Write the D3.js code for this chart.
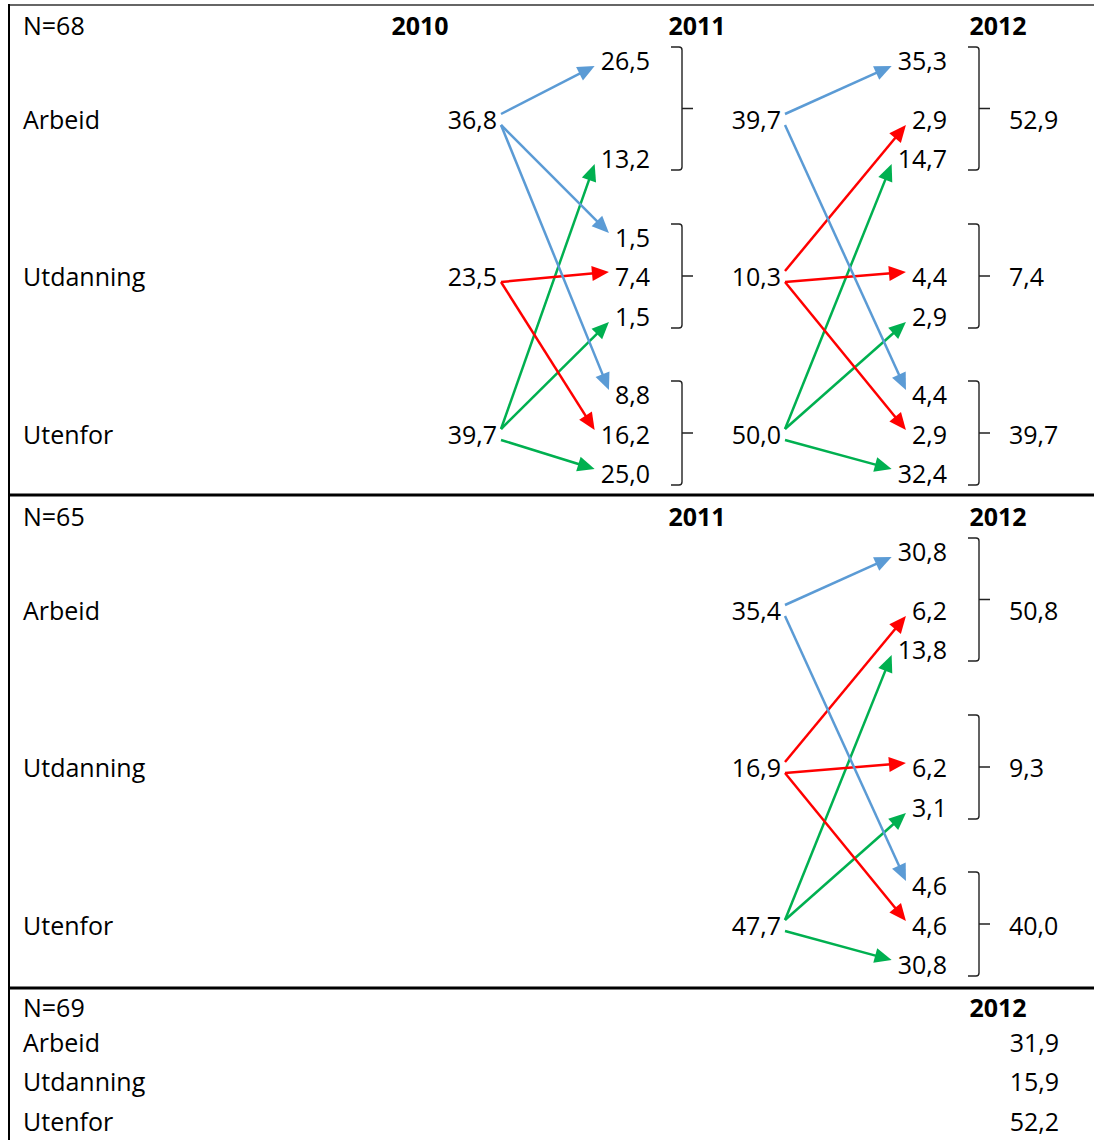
<!DOCTYPE html>
<html>
<head>
<meta charset="utf-8">
<script src="https://cdn.jsdelivr.net/npm/d3@7"></script>
<style>
  body { margin: 0; background: #fff; }
  text { font-family: "Open Sans", sans-serif; font-size: 25px; fill: #000; }
  text.year { font-weight: 700; }
</style>
</head>
<body>
<div id="chart"></div>
<script>
let w = 1094
let h = 1140

// categories, colour of arrows = category they come from
let CATEGORIES = ["Arbeid", "Utdanning", "Utenfor"]
let COLORS = ["#5B9BD5", "#FF0000", "#00B050"]

// panel 1
let N1 = "N=68"
let YEARS1 = ["2010", "2011", "2012"]
let P1_2010 = [36.8, 23.5, 39.7]
let P1_2011 = [39.7, 10.3, 50.0]
let P1_2012 = [52.9, 7.4, 39.7]
// [from, to, value]
let P1_FLOWS_2011 = [
  ["Arbeid", "Arbeid", 26.5], ["Utenfor", "Arbeid", 13.2],
  ["Arbeid", "Utdanning", 1.5], ["Utdanning", "Utdanning", 7.4], ["Utenfor", "Utdanning", 1.5],
  ["Arbeid", "Utenfor", 8.8], ["Utdanning", "Utenfor", 16.2], ["Utenfor", "Utenfor", 25.0]
]
let P1_FLOWS_2012 = [
  ["Arbeid", "Arbeid", 35.3], ["Utdanning", "Arbeid", 2.9], ["Utenfor", "Arbeid", 14.7],
  ["Utdanning", "Utdanning", 4.4], ["Utenfor", "Utdanning", 2.9],
  ["Arbeid", "Utenfor", 4.4], ["Utdanning", "Utenfor", 2.9], ["Utenfor", "Utenfor", 32.4]
]

// panel 2
let N2 = "N=65"
let YEARS2 = ["2011", "2012"]
let P2_2011 = [35.4, 16.9, 47.7]
let P2_2012 = [50.8, 9.3, 40.0]
let P2_FLOWS_2012 = [
  ["Arbeid", "Arbeid", 30.8], ["Utdanning", "Arbeid", 6.2], ["Utenfor", "Arbeid", 13.8],
  ["Utdanning", "Utdanning", 6.2], ["Utenfor", "Utdanning", 3.1],
  ["Arbeid", "Utenfor", 4.6], ["Utdanning", "Utenfor", 4.6], ["Utenfor", "Utenfor", 30.8]
]

// panel 3
let N3 = "N=69"
let YEARS3 = ["2012"]
let P3_2012 = [31.9, 15.9, 52.2]

let fmt = d3.formatLocale({decimal: ",", thousands: " ", grouping: [3], currency: ["", ""]}).format(".1f")

// layout scales
let yearX = d3.scaleOrdinal().domain(["2010", "2011", "2012"]).range([420, 697, 998])
let valueX = d3.scaleOrdinal().domain(["2010", "2011", "2012"]).range([497, 781, 1009])
let flowX = d3.scaleOrdinal().domain(["2011", "2012"]).range([650, 947])
let catRow = d3.scaleOrdinal().domain(CATEGORIES).range([114, 271, 429])
let slotRow = d3.scaleOrdinal().domain(d3.range(9)).range([55, 114, 153, 232, 271, 311, 389, 429, 468])
let color = d3.scaleOrdinal().domain(CATEGORIES).range(COLORS)
let baseline = 9

let svg = d3.select("#chart").append("svg")
  .attr("width", w)
  .attr("height", h)

function slotOf(d) {
  return CATEGORIES.indexOf(d[1]) * 3 + CATEGORIES.indexOf(d[0])
}

function drawFlowPanel(top, nLabel, years, stages, flowSets) {
  let g = svg.append("g").attr("transform", "translate(0," + top + ")")

  g.append("text").attr("x", 23).attr("y", 20 + baseline).text(nLabel)
  g.selectAll(null).data(years).enter().append("text")
    .attr("class", "year")
    .attr("x", d => yearX(d))
    .attr("y", 20 + baseline)
    .attr("text-anchor", "middle")
    .text(d => d)

  g.selectAll(null).data(CATEGORIES).enter().append("text")
    .attr("x", 23)
    .attr("y", d => catRow(d) + baseline)
    .text(d => d)

  // stage values (sources, last one is the bracket total)
  stages.forEach((vals, i) => {
    let last = i > 0 && i == stages.length - 1
    g.selectAll(null).data(vals).enter().append("text")
      .attr("x", valueX(years[i]))
      .attr("y", (d, j) => catRow(CATEGORIES[j]) + baseline)
      .attr("text-anchor", last ? "start" : "end")
      .text(d => fmt(d))
  })

  flowSets.forEach((flows, k) => {
    let yr = years[k + 1]
    let srcYr = years[k]

    let labels = g.selectAll(null).data(flows).enter().append("text")
      .attr("x", flowX(yr))
      .attr("y", d => slotRow(slotOf(d)) + baseline)
      .attr("text-anchor", "end")
      .text(d => fmt(d[2]))

    // brackets round each target group
    CATEGORIES.forEach((c, ci) => {
      if (!flows.some(d => d[1] == c)) return
      let t = slotRow(ci * 3) - 14
      let b = slotRow(ci * 3 + 2) + 11
      let m = (t + b) / 2
      let x0 = flowX(yr) + 21
      let x1 = x0 + 11
      let p = d3.path()
      p.moveTo(x0, t); p.lineTo(x1 - 3, t); p.quadraticCurveTo(x1, t, x1, t + 3)
      p.lineTo(x1, b - 3); p.quadraticCurveTo(x1, b, x1 - 3, b); p.lineTo(x0, b)
      p.moveTo(x1, m); p.lineTo(x1 + 11, m)
      g.append("path").attr("d", p.toString())
        .attr("fill", "none").attr("stroke", "#222").attr("stroke-width", 1.4)
    })

    // arrows
    labels.each(function(d) {
      let width = this.getComputedTextLength()
      let sy = catRow(d[0])
      let ty = slotRow(slotOf(d))
      let dy = ty - sy
      let x1 = valueX(srcYr) + 4
      let y1 = sy + (dy < 0 ? -6 : 5)
      let x2 = flowX(yr) - width - 6
      let y2 = ty + (dy < 0 ? 5 : -5)
      let len = Math.hypot(x2 - x1, y2 - y1)
      let ux = (x2 - x1) / len, uy = (y2 - y1) / len
      let col = color(d[0])
      g.append("line")
        .attr("x1", x1).attr("y1", y1)
        .attr("x2", x2 - ux * 12).attr("y2", y2 - uy * 12)
        .attr("stroke", col).attr("stroke-width", 2.5)
      let bx = x2 - ux * 17, by = y2 - uy * 17
      g.append("path")
        .attr("d", "M" + x2 + "," + y2 +
          "L" + (bx - uy * 7.5) + "," + (by + ux * 7.5) +
          "L" + (bx + uy * 7.5) + "," + (by - ux * 7.5) + "Z")
        .attr("fill", col)
    })
  })
}

function drawTablePanel(top, nLabel, years, vals) {
  let g = svg.append("g").attr("transform", "translate(0," + top + ")")
  let rowY = d3.scaleOrdinal().domain(CATEGORIES).range([55, 94, 134])
  g.append("text").attr("x", 23).attr("y", 20 + baseline).text(nLabel)
  g.append("text").attr("class", "year")
    .attr("x", yearX(years[0])).attr("y", 20 + baseline)
    .attr("text-anchor", "middle").text(years[0])
  g.selectAll(null).data(CATEGORIES).enter().append("text")
    .attr("x", 23).attr("y", d => rowY(d) + baseline).text(d => d)
  g.selectAll(null).data(vals).enter().append("text")
    .attr("x", 1059)
    .attr("y", (d, j) => rowY(CATEGORIES[j]) + baseline)
    .attr("text-anchor", "end")
    .text(d => fmt(d))
}

drawFlowPanel(6, N1, YEARS1, [P1_2010, P1_2011, P1_2012], [P1_FLOWS_2011, P1_FLOWS_2012])
drawFlowPanel(497, N2, YEARS2, [P2_2011, P2_2012], [P2_FLOWS_2012])
drawTablePanel(988, N3, YEARS3, P3_2012)

// frame
svg.append("line").attr("x1", 9).attr("x2", w).attr("y1", 5).attr("y2", 5)
  .attr("stroke", "#333").attr("stroke-width", 1.5)
svg.append("line").attr("x1", 9).attr("x2", 9).attr("y1", 4).attr("y2", h)
  .attr("stroke", "#000").attr("stroke-width", 2)
svg.selectAll(null).data([495, 988]).enter().append("line")
  .attr("x1", 9).attr("x2", w).attr("y1", d => d).attr("y2", d => d)
  .attr("stroke", "#000").attr("stroke-width", 3)
</script>
</body>
</html>
